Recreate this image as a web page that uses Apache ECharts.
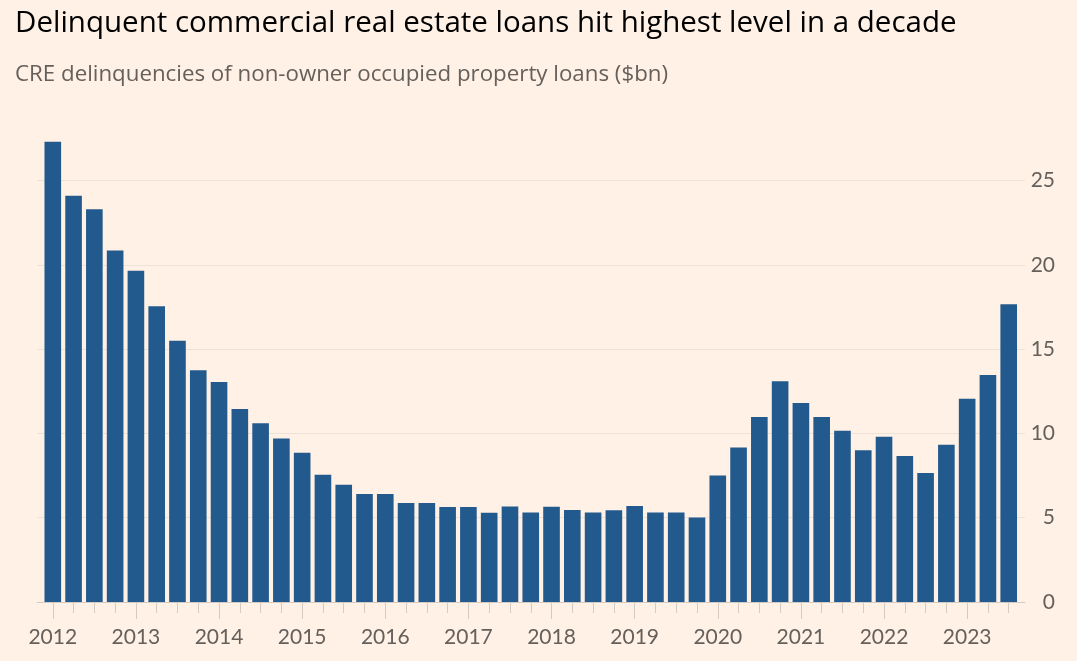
<!DOCTYPE html>
<html>
<head>
<meta charset="utf-8">
<script src="https://cdn.jsdelivr.net/npm/echarts@6/dist/echarts.min.js"></script>
<style>
  html, body { margin: 0; padding: 0; background: #FFF1E5; }
  #chart { width: 1077px; height: 661px; }
</style>
</head>
<body>
<div id="chart"></div>
<script>
// Quarters from 2012 Q1 to 2023 Q3
const quarters = [
  "2012 Q1","2012 Q2","2012 Q3","2012 Q4",
  "2013 Q1","2013 Q2","2013 Q3","2013 Q4",
  "2014 Q1","2014 Q2","2014 Q3","2014 Q4",
  "2015 Q1","2015 Q2","2015 Q3","2015 Q4",
  "2016 Q1","2016 Q2","2016 Q3","2016 Q4",
  "2017 Q1","2017 Q2","2017 Q3","2017 Q4",
  "2018 Q1","2018 Q2","2018 Q3","2018 Q4",
  "2019 Q1","2019 Q2","2019 Q3","2019 Q4",
  "2020 Q1","2020 Q2","2020 Q3","2020 Q4",
  "2021 Q1","2021 Q2","2021 Q3","2021 Q4",
  "2022 Q1","2022 Q2","2022 Q3","2022 Q4",
  "2023 Q1","2023 Q2","2023 Q3"
];
// CRE delinquencies, $bn
const delinquencies = [
  27.3, 24.1, 23.3, 20.85,
  19.65, 17.55, 15.5, 13.75,
  13.05, 11.45, 10.6, 9.7,
  8.85, 7.55, 6.95, 6.4,
  6.4, 5.87, 5.87, 5.63,
  5.63, 5.3, 5.67, 5.31,
  5.65, 5.46, 5.31, 5.44,
  5.69, 5.31, 5.31, 5.02,
  7.5, 9.17, 10.97, 13.1,
  11.8, 10.97, 10.16, 9.0,
  9.8, 8.66, 7.65, 9.33,
  12.06, 13.46, 17.67
];
const yTicks = [0, 5, 10, 15, 20, 25];

const chart = echarts.init(document.getElementById('chart'), null, { renderer: 'canvas' });
const FONT = 'Lato, "Open Sans", sans-serif';
const TFONT = '"Open Sans", Lato, sans-serif';
const yMax = 28;

chart.setOption({
  backgroundColor: '#FFF1E5',
  animation: false,
  title: [
    {
      text: 'Delinquent commercial real estate loans hit highest level in a decade',
      left: 10, top: 4,
      textStyle: { fontFamily: TFONT, fontSize: 29.5, fontWeight: 'normal', color: '#000000' }
    },
    {
      text: 'CRE delinquencies of non-owner occupied property loans ($bn)',
      left: 10, top: 59,
      textStyle: { fontFamily: TFONT, fontSize: 22.3, fontWeight: 'normal', color: '#66605C' }
    }
  ],
  grid: [
    { left: 37, right: 52, top: 130, bottom: 59 },
    { left: 42.4, right: 57.9, top: 130, bottom: 59 }
  ],
  xAxis: [
    {
      gridIndex: 0, type: 'value', min: 0, max: 1, position: 'bottom',
      axisLine: { show: true, lineStyle: { color: '#D5CBC2', width: 1 } },
      axisTick: { show: false }, axisLabel: { show: false }, splitLine: { show: false }
    },
    {
      gridIndex: 1, type: 'category', data: quarters, boundaryGap: true, position: 'bottom',
      axisLine: { show: false },
      axisTick: { show: true, alignWithLabel: true, interval: 0, length: 11, lineStyle: { color: '#D5CBC2' } },
      axisLabel: { show: false }
    },
    {
      gridIndex: 1, type: 'category', data: quarters, boundaryGap: true, position: 'bottom',
      axisLine: { show: false },
      axisTick: { show: true, alignWithLabel: true, interval: 3, length: 17, lineStyle: { color: '#D5CBC2' } },
      axisLabel: {
        show: true, interval: 3, margin: 25,
        fontFamily: FONT, fontSize: 21, color: '#66605C',
        formatter: (v) => v.slice(0, 4)
      }
    }
  ],
  yAxis: [
    {
      gridIndex: 0, type: 'value', position: 'right', min: 0, max: yMax, interval: 5,
      axisLine: { show: false }, axisTick: { show: false },
      splitLine: { show: true, showMinLine: false, showMaxLine: false, lineStyle: { color: '#EDE2D8', width: 1 } },
      axisLabel: {
        show: true, showMaxLabel: false, align: 'right', margin: 30,
        fontFamily: FONT, fontSize: 21, color: '#66605C',
        formatter: (v) => (yTicks.indexOf(v) >= 0 ? String(v) : '')
      }
    },
    {
      gridIndex: 1, type: 'value', min: 0, max: yMax, interval: 5, show: false
    }
  ],
  series: [
    {
      type: 'bar',
      xAxisIndex: 1, yAxisIndex: 1,
      data: delinquencies,
      barCategoryGap: '20%',
      itemStyle: { color: '#225A8E' }
    }
  ]
});
</script>
</body>
</html>
